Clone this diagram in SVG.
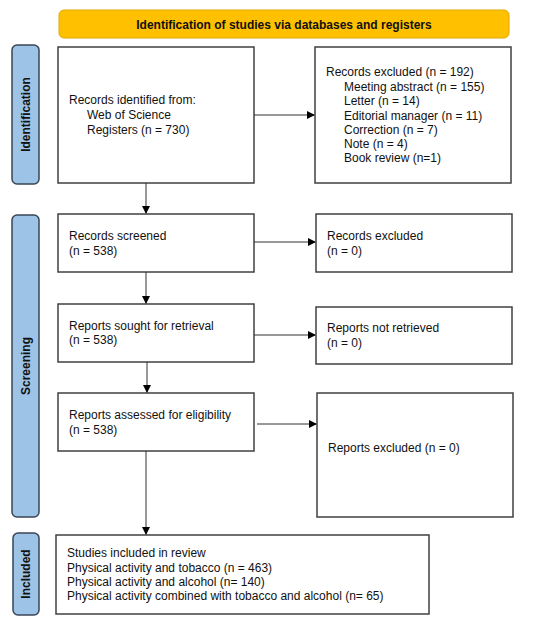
<svg xmlns="http://www.w3.org/2000/svg" width="550" height="628" viewBox="0 0 550 628">
<defs>
<marker id="ah" markerWidth="8" markerHeight="8" refX="7" refY="4" orient="auto" markerUnits="userSpaceOnUse">
<path d="M0,0 L8,4 L0,8 z" fill="#000"/>
</marker>
<style>
.box{fill:#fff;stroke:#404040;stroke-width:1.5}
.side{fill:#9DC3E6;stroke:#3A4656;stroke-width:1.5}
.t{font-family:"Liberation Sans",Arial,sans-serif;font-size:12px;fill:#111}
.b{font-family:"Liberation Sans",Arial,sans-serif;font-size:12px;font-weight:bold;fill:#111}
.c{stroke:#333;stroke-width:1;fill:none;marker-end:url(#ah)}
</style>
</defs>
<rect width="550" height="628" fill="#fff"/>
<g id="header">
<rect x="59" y="10" width="450" height="28" rx="5" fill="#FFC000" stroke="#E0A800" stroke-width="1"/>
<text class="b" x="284" y="29" text-anchor="middle">Identification of studies via databases and registers</text>
</g>
<g id="label-identification">
<rect class="side" x="12" y="45" width="27" height="139" rx="5"/>
<text class="b" transform="translate(30,114.5) rotate(-90)" text-anchor="middle">Identification</text>
</g>
<g id="label-screening">
<rect class="side" x="12" y="215" width="27" height="302" rx="5"/>
<text class="b" transform="translate(30,366) rotate(-90)" text-anchor="middle">Screening</text>
</g>
<g id="label-included">
<rect class="side" x="13" y="533" width="26" height="82" rx="5"/>
<text class="b" transform="translate(30,574) rotate(-90)" text-anchor="middle">Included</text>
</g>
<g id="identified">
<rect class="box" x="58" y="47" width="196" height="136"/>
<text class="t" x="69" y="104">Records identified from:</text>
<text class="t" x="87" y="119">Web of Science</text>
<text class="t" x="87" y="134">Registers (n = 730)</text>
</g>
<g id="excluded1">
<rect class="box" x="315" y="47" width="196" height="136"/>
<text class="t" x="326" y="76">Records excluded (n = 192)</text>
<text class="t" x="344" y="90.5">Meeting abstract (n = 155)</text>
<text class="t" x="344" y="105">Letter (n = 14)</text>
<text class="t" x="344" y="119.5">Editorial manager (n = 11)</text>
<text class="t" x="344" y="133.5">Correction (n = 7)</text>
<text class="t" x="344" y="147.5">Note (n = 4)</text>
<text class="t" x="344" y="162">Book review (n=1)</text>
</g>
<g id="screened">
<rect class="box" x="58" y="214" width="196" height="58"/>
<text class="t" x="69" y="240">Records screened</text>
<text class="t" x="69" y="255">(n = 538)</text>
</g>
<g id="excluded2">
<rect class="box" x="316" y="214" width="196" height="58"/>
<text class="t" x="327" y="240">Records excluded</text>
<text class="t" x="327" y="255">(n = 0)</text>
</g>
<g id="sought">
<rect class="box" x="58" y="304" width="196" height="58"/>
<text class="t" x="69" y="330">Reports sought for retrieval</text>
<text class="t" x="69" y="344">(n = 538)</text>
</g>
<g id="notretrieved">
<rect class="box" x="316" y="307" width="196" height="57"/>
<text class="t" x="327" y="332">Reports not retrieved</text>
<text class="t" x="327" y="347">(n = 0)</text>
</g>
<g id="assessed">
<rect class="box" x="58" y="393" width="196" height="58"/>
<text class="t" x="69" y="419">Reports assessed for eligibility</text>
<text class="t" x="69" y="434">(n = 538)</text>
</g>
<g id="excluded3">
<rect class="box" x="317" y="393" width="196" height="124"/>
<text class="t" x="328" y="452">Reports excluded (n = 0)</text>
</g>
<g id="included">
<rect class="box" x="56" y="535" width="373" height="79"/>
<text class="t" x="67" y="557">Studies included in review</text>
<text class="t" x="67" y="572">Physical activity and tobacco (n = 463)</text>
<text class="t" x="67" y="586">Physical activity and alcohol (n= 140)</text>
<text class="t" x="67" y="600">Physical activity combined with tobacco and alcohol (n= 65)</text>
</g>
<g id="connectors">
<line class="c" x1="254" y1="115" x2="314" y2="115"/>
<line class="c" x1="146" y1="183" x2="146" y2="213"/>
<line class="c" x1="254" y1="242" x2="315" y2="242"/>
<line class="c" x1="146" y1="272" x2="146" y2="303"/>
<line class="c" x1="254" y1="335" x2="315" y2="335"/>
<line class="c" x1="147" y1="362" x2="147" y2="392"/>
<line class="c" x1="257" y1="424" x2="316" y2="424"/>
<line class="c" x1="146" y1="451" x2="146" y2="534"/>
</g>
</svg>
